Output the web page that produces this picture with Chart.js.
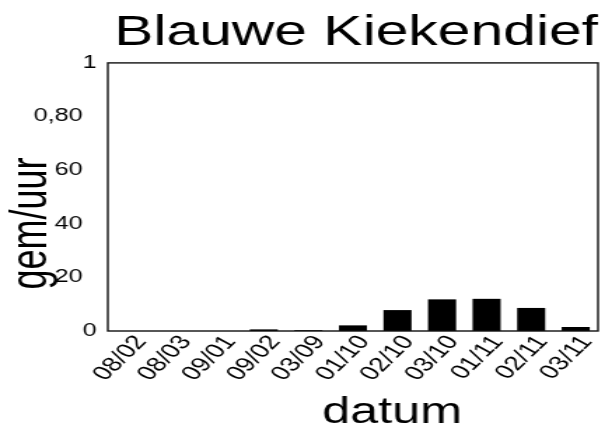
<!DOCTYPE html>
<html>
<head>
<meta charset="utf-8">
<script src="https://cdn.jsdelivr.net/npm/chart.js@4"></script>
<style>
  body { margin: 0; background: #fff; }
</style>
</head>
<body>
<canvas id="grafiek" width="432" height="426" style="display:block;width:605px;height:426px"></canvas>
<script>
const titel = 'Blauwe Kiekendief';
const xTitel = 'datum';
const yTitel = 'gem/uur';
const datums = ['08/02', '08/03', '09/01', '09/02', '03/09', '01/10', '02/10', '03/10', '01/11', '02/11', '03/11'];
const gemPerUur = [0, 0, 0, 0.006, 0.003, 0.021, 0.078, 0.118, 0.12, 0.086, 0.015];
const yLabels = ['0', '20', '40', '60', '0,80', '1'];

const lettertype = "'Liberation Sans', Arial, sans-serif";
Chart.defaults.font.family = lettertype;
Chart.defaults.color = '#000';

// kader rond de grafiek en de astitels (die over de ticklabels mogen lopen)
const kaderEnTitels = {
  id: 'kaderEnTitels',
  afterDraw(chart) {
    const { ctx, chartArea: a } = chart;
    ctx.save();
    ctx.strokeStyle = '#111';
    ctx.lineWidth = 1.4;
    ctx.strokeRect(a.left, a.top, a.right - a.left, a.bottom - a.top);

    ctx.fillStyle = '#000';
    ctx.font = '36px ' + lettertype;
    ctx.textAlign = 'center';
    ctx.textBaseline = 'alphabetic';
    ctx.fillText(xTitel, 280, 423);

    ctx.translate(33, 223.5);
    ctx.rotate(-Math.PI / 2);
    ctx.fillText(yTitel, 0, 0);
    ctx.restore();
  }
};

new Chart(document.getElementById('grafiek'), {
  type: 'bar',
  data: {
    labels: datums,
    datasets: [{
      data: gemPerUur,
      backgroundColor: '#000',
      barPercentage: 0.63,
      categoryPercentage: 1
    }]
  },
  options: {
    responsive: false,
    animation: false,
    layout: { padding: { left: 0, right: 5, top: 0, bottom: 0 } },
    plugins: {
      legend: { display: false },
      tooltip: { enabled: false },
      title: {
        display: true,
        text: titel,
        align: 'end',
        color: '#000',
        font: { size: 42, weight: 'normal' },
        padding: { top: 8.5, bottom: 4 }
      }
    },
    scales: {
      x: {
        grid: { display: false, drawTicks: false },
        border: { display: false },
        ticks: {
          font: { size: 20 },
          minRotation: 53,
          maxRotation: 53,
          autoSkip: false,
          padding: 0,
          labelOffset: 8
        },
        afterFit(s) { s.height = 95; }
      },
      y: {
        min: 0,
        max: 1,
        grid: { display: false, drawTicks: false },
        border: { display: false },
        ticks: {
          stepSize: 0.2,
          font: { size: 18 },
          padding: 8,
          callback: (v, i) => (i > 0 && i < yLabels.length - 1) ? yLabels[i] + '  ' : yLabels[i]
        },
        afterFit(s) { s.width = 77; }
      }
    }
  },
  plugins: [kaderEnTitels]
});
</script>
</body>
</html>
